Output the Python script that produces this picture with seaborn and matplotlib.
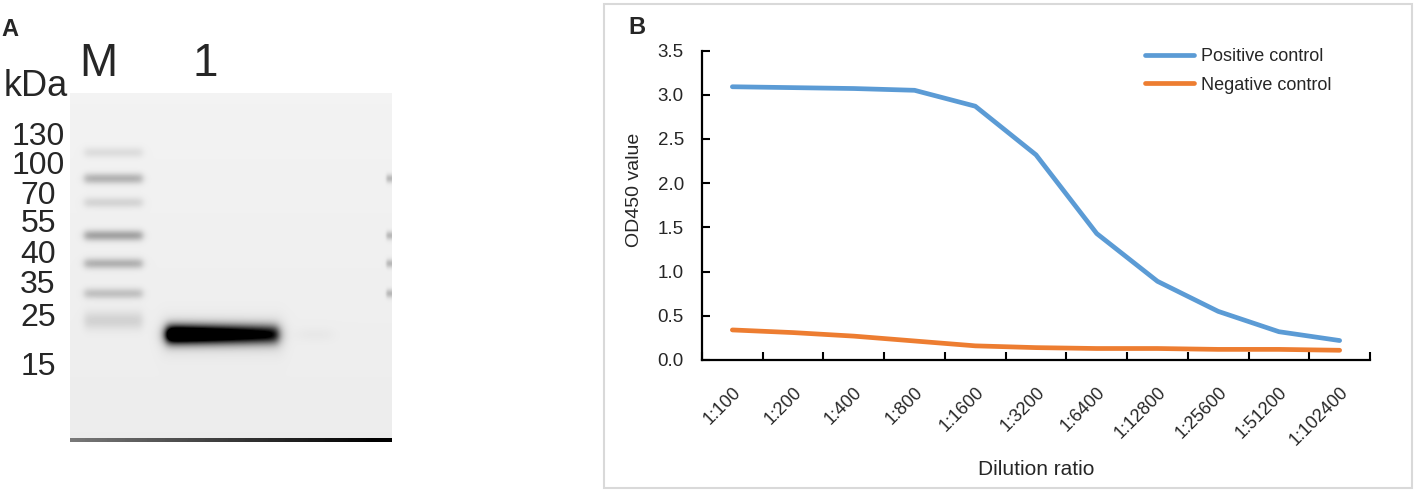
import matplotlib
matplotlib.use("Agg")
import matplotlib.pyplot as plt
from matplotlib.patches import Rectangle
import numpy as np
import pandas as pd
import seaborn as sns

# Panel B data
dilutions = ["1:100", "1:200", "1:400", "1:800", "1:1600", "1:3200",
             "1:6400", "1:12800", "1:25600", "1:51200", "1:102400"]
positive_od = [3.09, 3.08, 3.07, 3.05, 2.87, 2.32, 1.43, 0.89, 0.55, 0.32, 0.22]
negative_od = [0.34, 0.31, 0.27, 0.215, 0.16, 0.14, 0.13, 0.13, 0.12, 0.12, 0.11]

# Panel A data: marker ladder and sample band (gel rows / relative strength)
marker_kda = ["130", "100", "70", "55", "40", "35", "25", "15"]
marker_band_row = [59, 85, 109, 142, 170, 200, 227]
marker_band_strength = [0.08, 0.24, 0.11, 0.30, 0.24, 0.18, 0.11]
sample_band_row = 241

sns.set_theme(style="white")
plt.rcParams["font.family"] = ["Liberation Sans", "DejaVu Sans"]

W, H = 1418, 495
fig = plt.figure(figsize=(W / 100, H / 100), dpi=100)


def fx(px):
    return px / W


def fy(py):
    return 1 - py / H


# ---------------- Panel A: western blot ----------------
gw, gh = 322, 349
gel_ax = fig.add_axes([fx(70), fy(442), fx(392) - fx(70), fy(93) - fy(442)])
cols = np.arange(gw)
rows = np.arange(gh)
gel = np.full((gh, gw), 0.05)
gel += 0.025 * (rows[:, None] / gh)


def add_band(c0, c1, row, sig, amp, soft=3.0):
    across = 0.5 * (np.tanh((cols - c0) / soft) - np.tanh((cols - c1) / soft))
    down = np.exp(-0.5 * ((rows - row) / sig) ** 2)
    gel[:] += np.outer(down, amp * across)


for r, s in zip(marker_band_row, marker_band_strength):
    add_band(14, 72, r, 6.5 if r > 220 else 3.8, s, soft=4)

# sample band, darkest towards the left end
left_heavy = np.clip(1.5 - 0.65 * (cols - 96) / 112, 0.85, 1.5)
add_band(96, 208, sample_band_row, 6.5, left_heavy, soft=5)
add_band(90, 214, sample_band_row + 1, 12.0, 0.10, soft=6)
add_band(228, 262, sample_band_row, 5.0, 0.025, soft=8)

# faint right-edge specks and the dark bottom rim
for r in [85, 142, 170, 200]:
    add_band(316, 324, r, 3, 0.22, soft=1.5)
gel[-4:, :] += np.linspace(0.45, 0.95, gw)[None, :]

gel_ax.imshow(np.clip(gel, 0, 1), cmap="gray_r", vmin=0, vmax=1,
              extent=(0, gw, gh, 0), aspect="auto", interpolation="bilinear")
gel_ax.set_xlim(0, gw)
gel_ax.set_ylim(gh, 0)
gel_ax.set_xticks([])
gel_ax.set_yticks([])
for sp in gel_ax.spines.values():
    sp.set_visible(False)

label_rows = [44, 73, 103, 131, 162, 192, 225, 274]
for lab, r in zip(marker_kda, label_rows):
    gel_ax.text(-32, r, lab, fontsize=23, ha="center", va="center", clip_on=False)
gel_ax.text(-34, -7, "kDa", fontsize=26, ha="center", va="center", clip_on=False)
gel_ax.text(28, -29, "M", fontsize=33, ha="center", va="center", clip_on=False)
gel_ax.text(135, -29, "1", fontsize=33, ha="center", va="center", clip_on=False)

fig.text(fx(10), fy(29), "A", fontsize=17, fontweight="bold", ha="center", va="center")

# ---------------- Panel B: ELISA titration ----------------
fig.patches.append(Rectangle((fx(604), fy(488)), fx(1412) - fx(604), fy(4) - fy(488),
                             transform=fig.transFigure, fill=False,
                             ec="#d9d9d9", lw=1.5))
fig.text(fx(637), fy(28), "B", fontsize=17, fontweight="bold", ha="center", va="center")

ax = fig.add_axes([fx(702), fy(360), fx(1370) - fx(702), fy(50.5) - fy(360)])

df = pd.DataFrame({
    "Dilution ratio": dilutions * 2,
    "OD450 value": positive_od + negative_od,
    "series": ["Positive control"] * len(dilutions) + ["Negative control"] * len(dilutions),
})
sns.lineplot(data=df, x="Dilution ratio", y="OD450 value", hue="series",
             palette={"Positive control": "#5B9BD5", "Negative control": "#ED7D31"},
             linewidth=3.4, sort=False, ax=ax,
             solid_capstyle="round", solid_joinstyle="round")

n = len(dilutions)
ax.set_xlim(-0.5, n - 0.5)
ax.set_ylim(0, 3.5)
ax.set_xticks(range(n))
ax.set_xticklabels(dilutions, rotation=45, ha="right", rotation_mode="anchor")
ax.set_xticks(np.arange(-0.5, n), minor=True)
ax.tick_params(axis="x", which="major", length=0, pad=17, labelsize=13)
ax.tick_params(axis="x", which="minor", direction="in", length=6, width=1.5,
               color="black", bottom=True)
ax.set_yticks(np.arange(0, 3.51, 0.5))
ax.set_yticklabels([f"{v:.1f}" for v in np.arange(0, 3.51, 0.5)])
ax.tick_params(axis="y", direction="in", length=6, width=1.5, color="black",
               left=True, pad=13, labelsize=13.5)

for side in ["top", "right"]:
    ax.spines[side].set_visible(False)
for side in ["left", "bottom"]:
    ax.spines[side].set_color("black")
    ax.spines[side].set_linewidth(1.6)

ax.set_xlabel("Dilution ratio", fontsize=15)
ax.xaxis.set_label_coords((1036 - 702) / 668, -(460 - 360) / 309.5)
ax.set_ylabel("OD450 value", fontsize=14, family=["Liberation Sans Narrow", "Liberation Sans"])
ax.yaxis.set_label_coords((643 - 702) / 668, (360 - 190) / 309.5)

ax.legend(title=None, frameon=False, loc="upper left",
          bbox_to_anchor=(fx(1145), fy(48)), bbox_transform=fig.transFigure,
          borderpad=0, borderaxespad=0, fontsize=13, handlelength=2.7,
          handletextpad=0.4, labelspacing=0.65)

fig.savefig("out.png", dpi=100)
